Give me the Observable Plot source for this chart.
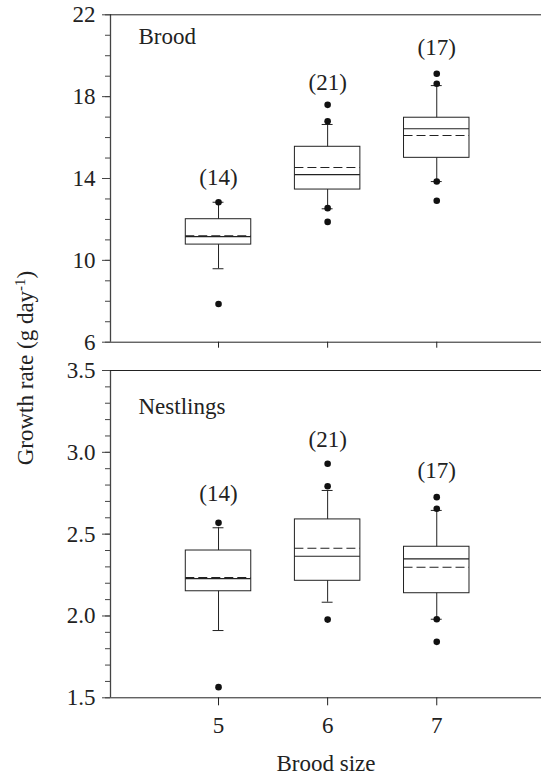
<!DOCTYPE html>
<html>
<head>
<meta charset="utf-8">
<script src="https://cdn.jsdelivr.net/npm/d3@7"></script>
<script src="https://cdn.jsdelivr.net/npm/@observablehq/plot@0.6"></script>
<style>
  html, body { margin: 0; padding: 0; background: #fff; }
  #wrap { position: relative; width: 541px; height: 775px; overflow: hidden; font-family: "Liberation Serif", "Times New Roman", Times, Tinos, "DejaVu Serif", serif; color: #222; }
  #wrap svg { display: block; }
  #wrap svg text { font-family: "Liberation Serif", "Times New Roman", Times, Tinos, "DejaVu Serif", serif; }
  #ylab { position: absolute; left: 25px; top: 368px; transform: translate(-50%, -50%) rotate(-90deg); white-space: nowrap; font-size: 23px; line-height: 1; }
  #ylab sup { font-size: 15px; vertical-align: 8px; line-height: 0; }
</style>
</head>
<body>
<div id="wrap"><div id="ylab">Growth rate (g day<sup>-1</sup>)</div></div>
<script>
// ---- Data ----
const sizes = [5, 6, 7];
const counts = [14, 21, 17];

// Brood growth rate (g/day)
const broodQ1 = [10.77, 13.46, 15.01];
const broodMedian = [11.16, 14.19, 16.43];
const broodMean = [11.20, 14.54, 16.10];
const broodQ3 = [12.01, 15.55, 16.97];
const broodLow = [9.59, 12.52, 13.85];
const broodHigh = [12.84, 16.64, 18.54];
const broodPointSize = [5, 5, 6, 6, 6, 6, 7, 7, 7, 7];
const broodPointValue = [12.84, 7.87, 16.80, 17.60, 12.55, 11.88, 18.63, 19.12, 13.85, 12.91];
const broodLabelY = [14.06, 18.70, 20.39];
const broodTicks = [6, 10, 14, 18, 22];
const broodMinor = d3.range(6, 22.5, 1);

// Nestling growth rate (g/day)
const nestQ1 = [2.151, 2.215, 2.139];
const nestMedian = [2.228, 2.365, 2.349];
const nestMean = [2.235, 2.414, 2.298];
const nestQ3 = [2.400, 2.590, 2.423];
const nestLow = [1.911, 2.084, 1.980];
const nestHigh = [2.539, 2.767, 2.645];
const nestPointSize = [5, 5, 6, 6, 6, 7, 7, 7, 7];
const nestPointValue = [2.569, 1.565, 2.793, 2.930, 1.978, 2.655, 2.726, 1.980, 1.842];
const nestLabelY = [2.746, 3.080, 2.889];
const nestTicks = [1.5, 2.0, 2.5, 3.0, 3.5];
const nestMinor = d3.range(15, 35.5, 1).map(d => d / 10);

const xDomain = [4.01, 7.96];
const ink = "#222";
const serif = "'Liberation Serif', 'Times New Roman', Times, Tinos, 'DejaVu Serif', serif";

function panel(o) {
  const rows = sizes.map((s, i) => ({
    s, n: counts[i], q1: o.q1[i], med: o.med[i], mean: o.mean[i], q3: o.q3[i],
    lo: o.lo[i], hi: o.hi[i], ly: o.ly[i]
  }));
  const pts = o.ps.map((s, i) => ({s, v: o.pv[i]}));
  const hw = 0.3, cw = 0.05;
  return Plot.plot({
    width: 541,
    height: o.height,
    marginLeft: 110,
    marginRight: 0,
    marginTop: o.mt,
    marginBottom: o.mb,
    style: {fontFamily: serif, fontSize: "23px", color: ink, background: "transparent", overflow: "visible"},
    x: {type: "linear", domain: xDomain},
    y: {domain: o.domain},
    marks: [
      Plot.ruleX([xDomain[0]], {stroke: "#444", strokeWidth: 1.3}),
      Plot.ruleY(o.domain, {stroke: ink, strokeWidth: 1}),
      Plot.axisY(o.minor, {tickSize: 5, tickFormat: () => "", label: null, stroke: "#444"}),
      Plot.axisY(o.ticks, {tickSize: 8, tickPadding: 7, tickFormat: o.fmt, label: null, stroke: "#444"}),
      o.bottom
        ? Plot.axisX(sizes, {tickSize: 8, tickPadding: 11, tickFormat: d => String(d), label: null})
        : Plot.axisX(sizes, {tickSize: 6, tickFormat: () => "", label: null}),
      Plot.rect(rows, {x1: d => d.s - hw, x2: d => d.s + hw, y1: "q1", y2: "q3", stroke: ink, fill: "none", strokeWidth: 1}),
      Plot.ruleX(rows, {x: "s", y1: "q3", y2: "hi", stroke: ink}),
      Plot.ruleX(rows, {x: "s", y1: "lo", y2: "q1", stroke: ink}),
      Plot.ruleY(rows, {y: "hi", x1: d => d.s - cw, x2: d => d.s + cw, stroke: ink}),
      Plot.ruleY(rows, {y: "lo", x1: d => d.s - cw, x2: d => d.s + cw, stroke: ink}),
      Plot.ruleY(rows, {y: "med", x1: d => d.s - hw, x2: d => d.s + hw, stroke: ink, strokeWidth: 1.1}),
      Plot.ruleY(rows, {y: "mean", x1: d => d.s - hw, x2: d => d.s + hw, stroke: ink, strokeWidth: 1.1, strokeDasharray: "9,4"}),
      Plot.dot(pts, {x: "s", y: "v", r: 3.3, fill: "#111", stroke: "none"}),
      Plot.text(rows, {x: "s", y: "ly", text: d => `(${d.n})`, fill: ink}),
      Plot.text([o.title], {frameAnchor: "top-left", dx: 28, dy: o.titleDy, lineAnchor: "top", textAnchor: "start", fill: ink}),
      o.bottom ? Plot.text(["Brood size"], {frameAnchor: "bottom", dy: 66, lineAnchor: "middle", fill: ink}) : null
    ]
  });
}

const wrap = document.getElementById("wrap");
wrap.appendChild(panel({
  q1: broodQ1, med: broodMedian, mean: broodMean, q3: broodQ3, lo: broodLow, hi: broodHigh,
  ps: broodPointSize, pv: broodPointValue, ly: broodLabelY,
  domain: [6, 22], ticks: broodTicks, minor: broodMinor, fmt: d => String(d),
  title: "Brood", titleDy: 13, height: 355, mt: 14.3, mb: 13.3, bottom: false
}));
wrap.appendChild(panel({
  q1: nestQ1, med: nestMedian, mean: nestMean, q3: nestQ3, lo: nestLow, hi: nestHigh,
  ps: nestPointSize, pv: nestPointValue, ly: nestLabelY,
  domain: [1.5, 3.5], ticks: nestTicks, minor: nestMinor, fmt: d => d.toFixed(1),
  title: "Nestlings", titleDy: 27, height: 420, mt: 15, mb: 77.7, bottom: true
}));
</script>
</body>
</html>
